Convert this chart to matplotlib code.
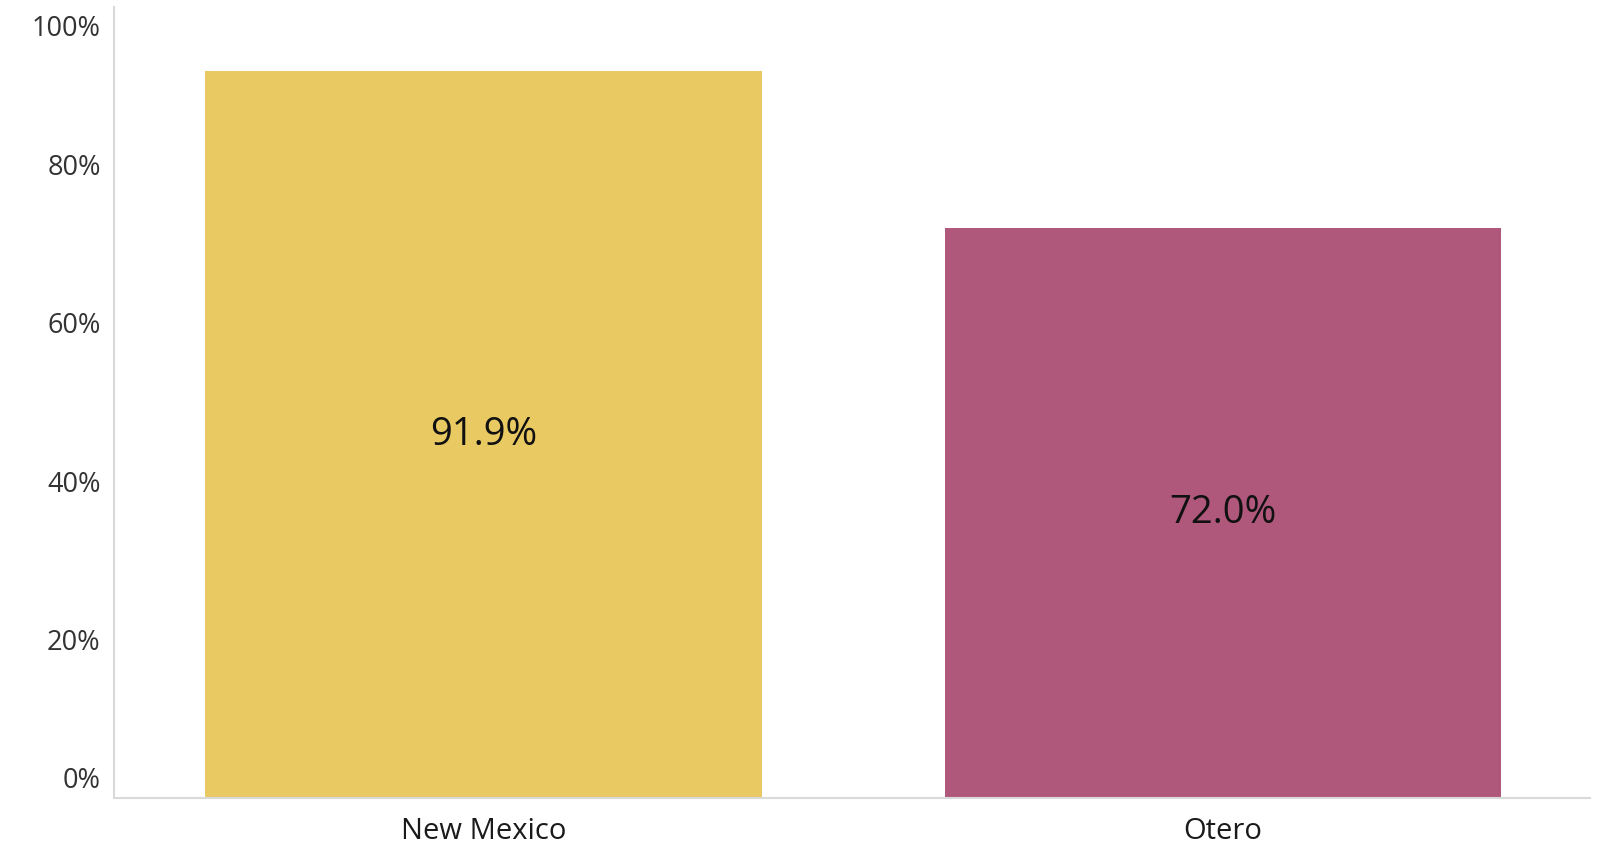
import matplotlib
matplotlib.use("Agg")
import matplotlib.pyplot as plt
import matplotlib.transforms as mtransforms

categories = ["New Mexico", "Otero"]
values = [0.919, 0.720]
bar_labels = ["91.9%", "72.0%"]
colors = ["#E9C962", "#B0587B"]
ytick_values = [0.0, 0.2, 0.4, 0.6, 0.8, 1.0]
ytick_labels = ["0%", "20%", "40%", "60%", "80%", "100%"]

plt.rcParams['font.family'] = ['Open Sans', 'DejaVu Sans']

fig = plt.figure(figsize=(16.19, 8.43), dpi=100)
ax = fig.add_axes([0.0702, 0.0534, 0.9118, 0.9383])

x = list(range(len(categories)))
bars = ax.bar(x, values, width=0.752, color=colors, zorder=2)
ax.bar_label(bars, labels=bar_labels, label_type='center', fontsize=27.5, color='#111111')

ax.set_xlim(-0.5, 1.496)
ax.set_ylim(0, 1.0)
ax.set_xticks(x)
ax.set_xticklabels(categories, fontsize=21, color='#1a1a1a')
ax.tick_params(axis='x', length=0, pad=13.5)
ax.set_yticks([])

for s in ['top', 'right']:
    ax.spines[s].set_visible(False)
for s in ['left', 'bottom']:
    ax.spines[s].set_color('#d9d9d9')
    ax.spines[s].set_linewidth(1.5)

base = mtransforms.blended_transform_factory(ax.transAxes, ax.transData)
for v, lab in zip(ytick_values, ytick_labels):
    dy = -3 / 100.0
    if v == ytick_values[0]:
        dy = 17 / 100.0
    elif v == ytick_values[-1]:
        dy = -22 / 100.0
    tr = base + mtransforms.ScaledTranslation(-13 / 100.0, dy, fig.dpi_scale_trans)
    ax.text(0, v, lab, transform=tr, ha='right', va='center', fontsize=19.5, color='#333333')

fig.savefig("out.png", dpi=100)
